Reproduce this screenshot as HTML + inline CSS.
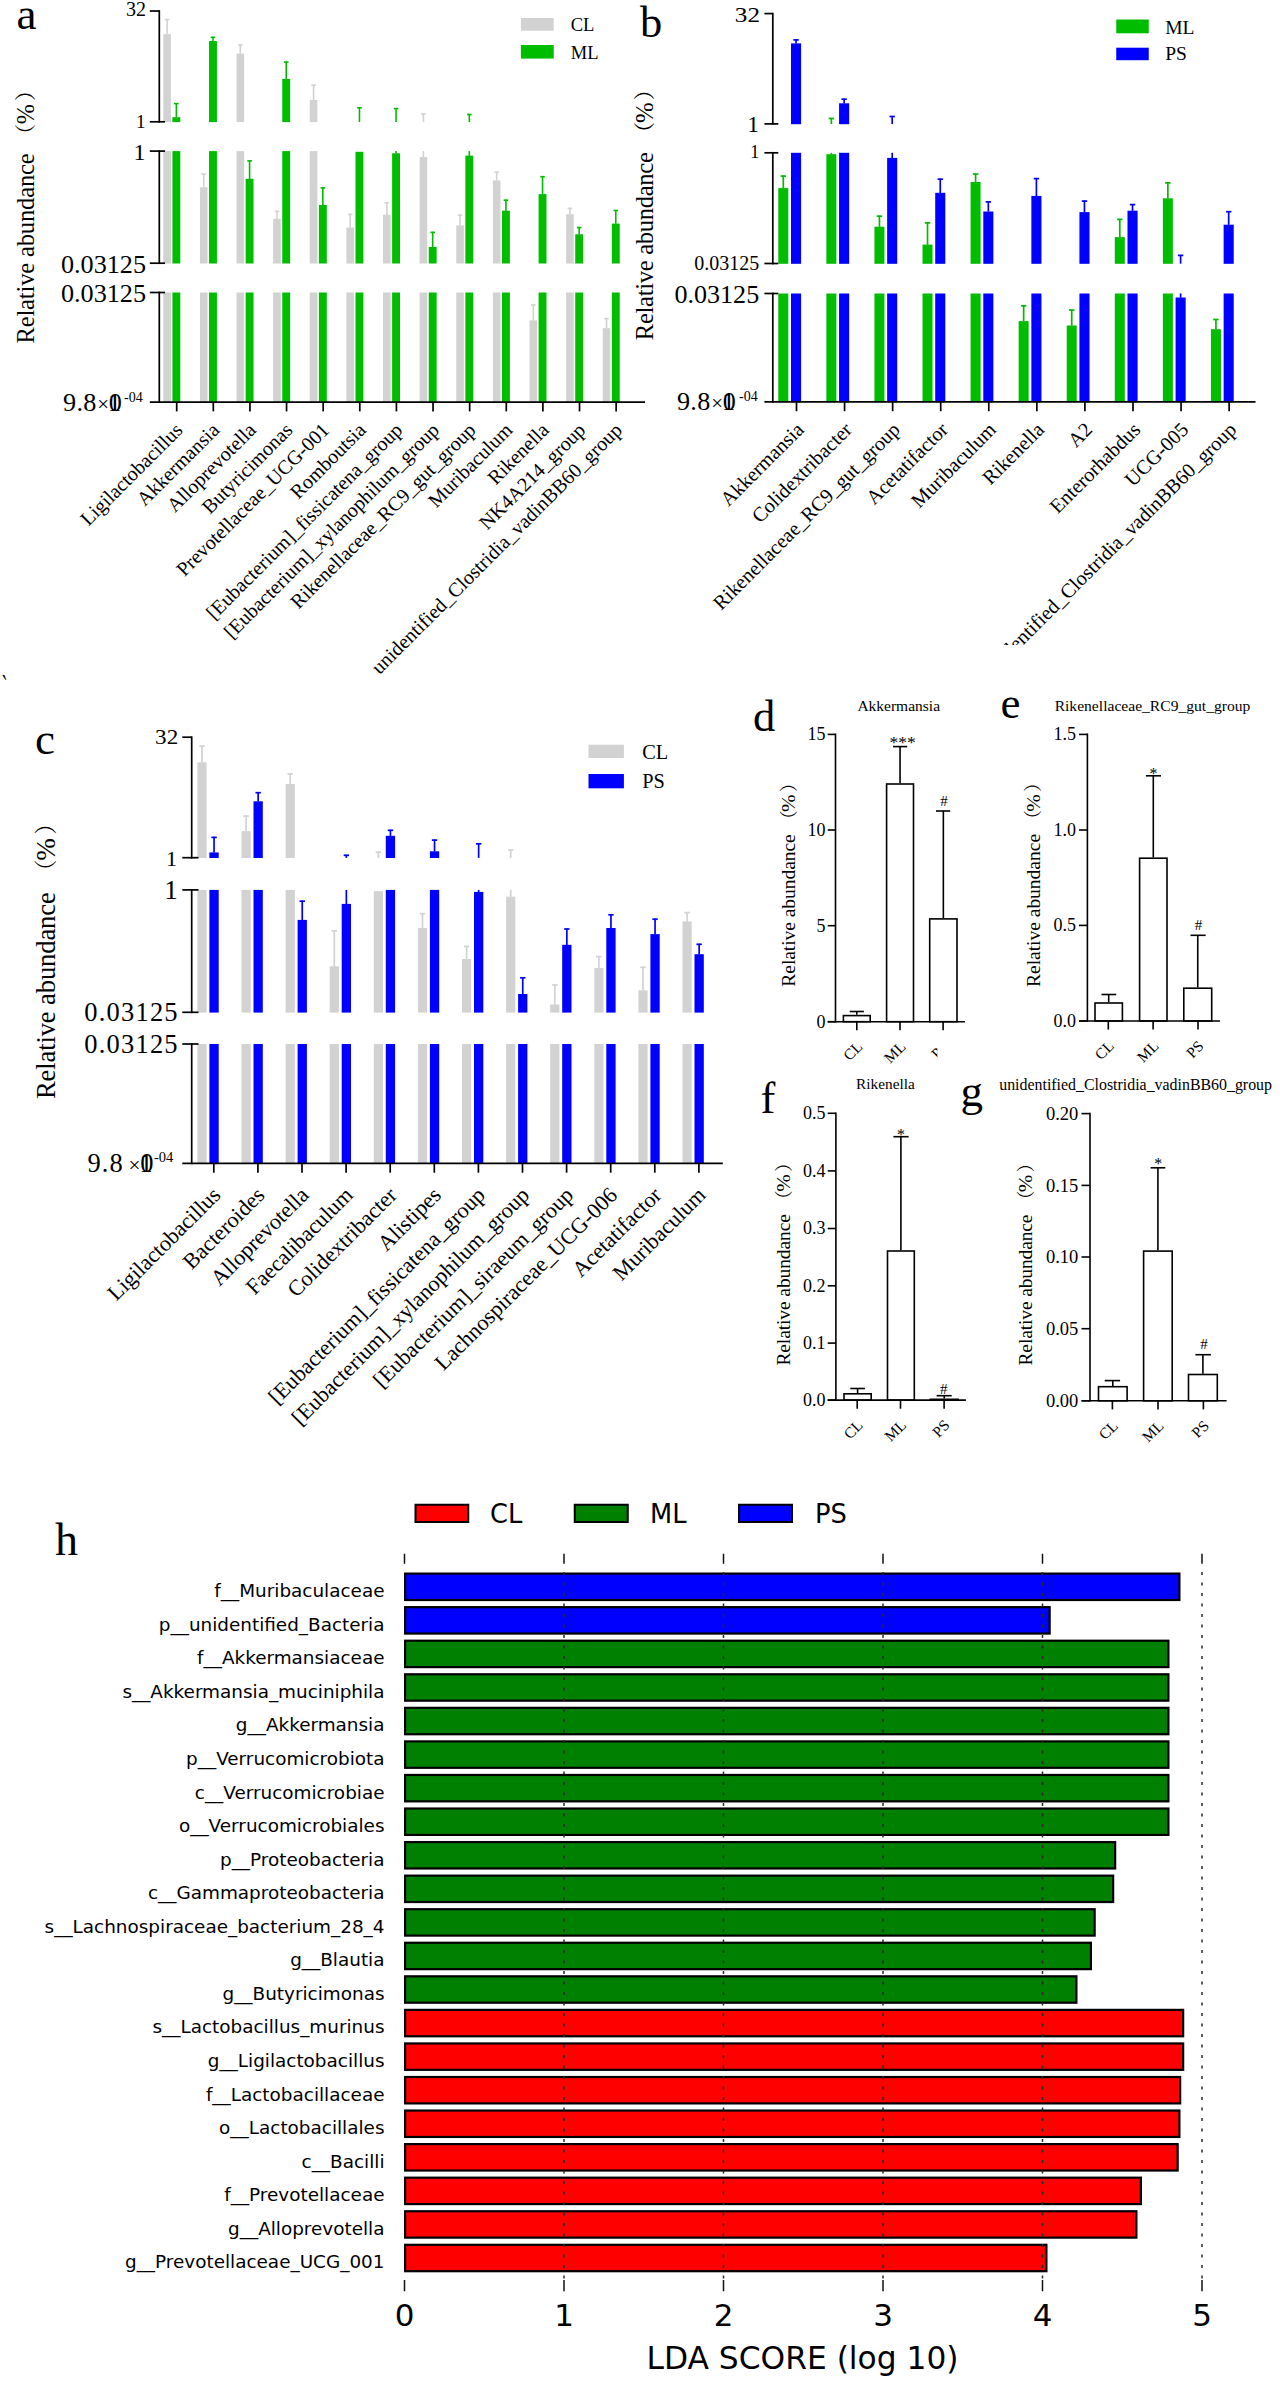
<!DOCTYPE html>
<html lang="en"><head><meta charset="utf-8"><title>Figure</title>
<style>html,body{margin:0;padding:0;background:#fff}svg{display:block}</style>
</head><body>
<svg width="1280" height="2387" viewBox="0 0 1280 2387">
<rect width="1280" height="2387" fill="#fff"/>
<rect x="163.3" y="34.2" width="7.6" height="87.9" fill="#D2D2D2"/>
<line x1="167.1" y1="19" x2="167.1" y2="34.4" stroke="#D2D2D2" stroke-width="1.6"/>
<line x1="164.8" y1="19.6" x2="169.4" y2="19.6" stroke="#D2D2D2" stroke-width="1.6"/>
<rect x="172.4" y="117.2" width="7.9" height="4.9" fill="#00BD00"/>
<line x1="176.35" y1="103" x2="176.35" y2="117.4" stroke="#00BD00" stroke-width="1.6"/>
<line x1="174.05" y1="103.6" x2="178.65" y2="103.6" stroke="#00BD00" stroke-width="1.6"/>
<rect x="209.02" y="41" width="7.9" height="81.1" fill="#00BD00"/>
<line x1="212.97" y1="36.7" x2="212.97" y2="41.2" stroke="#00BD00" stroke-width="1.6"/>
<line x1="210.67" y1="37.3" x2="215.27" y2="37.3" stroke="#00BD00" stroke-width="1.6"/>
<rect x="236.54" y="53.7" width="7.6" height="68.4" fill="#D2D2D2"/>
<line x1="240.34" y1="44.5" x2="240.34" y2="53.9" stroke="#D2D2D2" stroke-width="1.6"/>
<line x1="238.04" y1="45.1" x2="242.64" y2="45.1" stroke="#D2D2D2" stroke-width="1.6"/>
<rect x="282.26" y="79" width="7.9" height="43.1" fill="#00BD00"/>
<line x1="286.21" y1="61.5" x2="286.21" y2="79.2" stroke="#00BD00" stroke-width="1.6"/>
<line x1="283.91" y1="62.1" x2="288.51" y2="62.1" stroke="#00BD00" stroke-width="1.6"/>
<rect x="309.78" y="100" width="7.6" height="22.1" fill="#D2D2D2"/>
<line x1="313.58" y1="84.6" x2="313.58" y2="100.2" stroke="#D2D2D2" stroke-width="1.6"/>
<line x1="311.28" y1="85.2" x2="315.88" y2="85.2" stroke="#D2D2D2" stroke-width="1.6"/>
<line x1="359.45" y1="107.2" x2="359.45" y2="122" stroke="#00BD00" stroke-width="1.6"/>
<line x1="357.15" y1="107.8" x2="361.75" y2="107.8" stroke="#00BD00" stroke-width="1.6"/>
<line x1="396.07" y1="108" x2="396.07" y2="122" stroke="#00BD00" stroke-width="1.6"/>
<line x1="393.77" y1="108.6" x2="398.37" y2="108.6" stroke="#00BD00" stroke-width="1.6"/>
<line x1="423.44" y1="113.3" x2="423.44" y2="122" stroke="#D2D2D2" stroke-width="1.6"/>
<line x1="421.14" y1="113.9" x2="425.74" y2="113.9" stroke="#D2D2D2" stroke-width="1.6"/>
<line x1="469.31" y1="113.9" x2="469.31" y2="122" stroke="#00BD00" stroke-width="1.6"/>
<line x1="467.01" y1="114.5" x2="471.61" y2="114.5" stroke="#00BD00" stroke-width="1.6"/>
<rect x="163.3" y="151.1" width="7.6" height="112.4" fill="#D2D2D2"/>
<rect x="172.4" y="151.1" width="7.9" height="112.4" fill="#00BD00"/>
<rect x="199.92" y="187.3" width="7.6" height="76.2" fill="#D2D2D2"/>
<line x1="203.72" y1="173.5" x2="203.72" y2="187.5" stroke="#D2D2D2" stroke-width="1.6"/>
<line x1="201.42" y1="174.1" x2="206.02" y2="174.1" stroke="#D2D2D2" stroke-width="1.6"/>
<rect x="209.02" y="151.1" width="7.9" height="112.4" fill="#00BD00"/>
<rect x="236.54" y="151.1" width="7.6" height="112.4" fill="#D2D2D2"/>
<rect x="245.64" y="178.8" width="7.9" height="84.7" fill="#00BD00"/>
<line x1="249.59" y1="160.3" x2="249.59" y2="179" stroke="#00BD00" stroke-width="1.6"/>
<line x1="247.29" y1="160.9" x2="251.89" y2="160.9" stroke="#00BD00" stroke-width="1.6"/>
<rect x="273.16" y="218.8" width="7.6" height="44.7" fill="#D2D2D2"/>
<line x1="276.96" y1="210.7" x2="276.96" y2="219" stroke="#D2D2D2" stroke-width="1.6"/>
<line x1="274.66" y1="211.3" x2="279.26" y2="211.3" stroke="#D2D2D2" stroke-width="1.6"/>
<rect x="282.26" y="151.1" width="7.9" height="112.4" fill="#00BD00"/>
<rect x="309.78" y="151.1" width="7.6" height="112.4" fill="#D2D2D2"/>
<rect x="318.88" y="205" width="7.9" height="58.5" fill="#00BD00"/>
<line x1="322.83" y1="187.3" x2="322.83" y2="205.2" stroke="#00BD00" stroke-width="1.6"/>
<line x1="320.53" y1="187.9" x2="325.13" y2="187.9" stroke="#00BD00" stroke-width="1.6"/>
<rect x="346.4" y="227.6" width="7.6" height="35.9" fill="#D2D2D2"/>
<line x1="350.2" y1="213.8" x2="350.2" y2="227.8" stroke="#D2D2D2" stroke-width="1.6"/>
<line x1="347.9" y1="214.4" x2="352.5" y2="214.4" stroke="#D2D2D2" stroke-width="1.6"/>
<rect x="355.5" y="151.8" width="7.9" height="111.7" fill="#00BD00"/>
<rect x="383.02" y="214.8" width="7.6" height="48.7" fill="#D2D2D2"/>
<line x1="386.82" y1="202.2" x2="386.82" y2="215" stroke="#D2D2D2" stroke-width="1.6"/>
<line x1="384.52" y1="202.8" x2="389.12" y2="202.8" stroke="#D2D2D2" stroke-width="1.6"/>
<rect x="392.12" y="153.3" width="7.9" height="110.2" fill="#00BD00"/>
<line x1="396.07" y1="151.1" x2="396.07" y2="153.5" stroke="#00BD00" stroke-width="1.6"/>
<rect x="419.64" y="157" width="7.6" height="106.5" fill="#D2D2D2"/>
<line x1="423.44" y1="151.1" x2="423.44" y2="157.2" stroke="#D2D2D2" stroke-width="1.6"/>
<rect x="428.74" y="247" width="7.9" height="16.5" fill="#00BD00"/>
<line x1="432.69" y1="231.8" x2="432.69" y2="247.2" stroke="#00BD00" stroke-width="1.6"/>
<line x1="430.39" y1="232.4" x2="434.99" y2="232.4" stroke="#00BD00" stroke-width="1.6"/>
<rect x="456.26" y="225.4" width="7.6" height="38.1" fill="#D2D2D2"/>
<line x1="460.06" y1="214.6" x2="460.06" y2="225.6" stroke="#D2D2D2" stroke-width="1.6"/>
<line x1="457.76" y1="215.2" x2="462.36" y2="215.2" stroke="#D2D2D2" stroke-width="1.6"/>
<rect x="465.36" y="155.6" width="7.9" height="107.9" fill="#00BD00"/>
<line x1="469.31" y1="151.1" x2="469.31" y2="155.8" stroke="#00BD00" stroke-width="1.6"/>
<rect x="492.88" y="180.4" width="7.6" height="83.1" fill="#D2D2D2"/>
<line x1="496.68" y1="171.6" x2="496.68" y2="180.6" stroke="#D2D2D2" stroke-width="1.6"/>
<line x1="494.38" y1="172.2" x2="498.98" y2="172.2" stroke="#D2D2D2" stroke-width="1.6"/>
<rect x="501.98" y="210.7" width="7.9" height="52.8" fill="#00BD00"/>
<line x1="505.93" y1="199.6" x2="505.93" y2="210.9" stroke="#00BD00" stroke-width="1.6"/>
<line x1="503.63" y1="200.2" x2="508.23" y2="200.2" stroke="#00BD00" stroke-width="1.6"/>
<rect x="538.6" y="194.1" width="7.9" height="69.4" fill="#00BD00"/>
<line x1="542.55" y1="176.1" x2="542.55" y2="194.3" stroke="#00BD00" stroke-width="1.6"/>
<line x1="540.25" y1="176.7" x2="544.85" y2="176.7" stroke="#00BD00" stroke-width="1.6"/>
<rect x="566.12" y="214.2" width="7.6" height="49.3" fill="#D2D2D2"/>
<line x1="569.92" y1="207.8" x2="569.92" y2="214.4" stroke="#D2D2D2" stroke-width="1.6"/>
<line x1="567.62" y1="208.4" x2="572.22" y2="208.4" stroke="#D2D2D2" stroke-width="1.6"/>
<rect x="575.22" y="234.3" width="7.9" height="29.2" fill="#00BD00"/>
<line x1="579.17" y1="226.9" x2="579.17" y2="234.5" stroke="#00BD00" stroke-width="1.6"/>
<line x1="576.87" y1="227.5" x2="581.47" y2="227.5" stroke="#00BD00" stroke-width="1.6"/>
<rect x="611.84" y="223.6" width="7.9" height="39.9" fill="#00BD00"/>
<line x1="615.79" y1="209.9" x2="615.79" y2="223.8" stroke="#00BD00" stroke-width="1.6"/>
<line x1="613.49" y1="210.5" x2="618.09" y2="210.5" stroke="#00BD00" stroke-width="1.6"/>
<rect x="163.3" y="292.5" width="7.6" height="109.9" fill="#D2D2D2"/>
<rect x="172.4" y="292.5" width="7.9" height="109.9" fill="#00BD00"/>
<rect x="199.92" y="292.5" width="7.6" height="109.9" fill="#D2D2D2"/>
<rect x="209.02" y="292.5" width="7.9" height="109.9" fill="#00BD00"/>
<rect x="236.54" y="292.5" width="7.6" height="109.9" fill="#D2D2D2"/>
<rect x="245.64" y="292.5" width="7.9" height="109.9" fill="#00BD00"/>
<rect x="273.16" y="292.5" width="7.6" height="109.9" fill="#D2D2D2"/>
<rect x="282.26" y="292.5" width="7.9" height="109.9" fill="#00BD00"/>
<rect x="309.78" y="292.5" width="7.6" height="109.9" fill="#D2D2D2"/>
<rect x="318.88" y="292.5" width="7.9" height="109.9" fill="#00BD00"/>
<rect x="346.4" y="292.5" width="7.6" height="109.9" fill="#D2D2D2"/>
<rect x="355.5" y="292.5" width="7.9" height="109.9" fill="#00BD00"/>
<rect x="383.02" y="292.5" width="7.6" height="109.9" fill="#D2D2D2"/>
<rect x="392.12" y="292.5" width="7.9" height="109.9" fill="#00BD00"/>
<rect x="419.64" y="292.5" width="7.6" height="109.9" fill="#D2D2D2"/>
<rect x="428.74" y="292.5" width="7.9" height="109.9" fill="#00BD00"/>
<rect x="456.26" y="292.5" width="7.6" height="109.9" fill="#D2D2D2"/>
<rect x="465.36" y="292.5" width="7.9" height="109.9" fill="#00BD00"/>
<rect x="492.88" y="292.5" width="7.6" height="109.9" fill="#D2D2D2"/>
<rect x="501.98" y="292.5" width="7.9" height="109.9" fill="#00BD00"/>
<rect x="538.6" y="292.5" width="7.9" height="109.9" fill="#00BD00"/>
<rect x="566.12" y="292.5" width="7.6" height="109.9" fill="#D2D2D2"/>
<rect x="575.22" y="292.5" width="7.9" height="109.9" fill="#00BD00"/>
<rect x="611.84" y="292.5" width="7.9" height="109.9" fill="#00BD00"/>
<rect x="529.5" y="320.4" width="7.6" height="82" fill="#D2D2D2"/>
<line x1="533.3" y1="304.3" x2="533.3" y2="320.6" stroke="#D2D2D2" stroke-width="1.6"/>
<line x1="531" y1="304.9" x2="535.6" y2="304.9" stroke="#D2D2D2" stroke-width="1.6"/>
<rect x="602.74" y="328.2" width="7.6" height="74.2" fill="#D2D2D2"/>
<line x1="606.54" y1="318" x2="606.54" y2="328.4" stroke="#D2D2D2" stroke-width="1.6"/>
<line x1="604.24" y1="318.6" x2="608.84" y2="318.6" stroke="#D2D2D2" stroke-width="1.6"/>
<line x1="159.3" y1="10.15" x2="159.3" y2="122.65" stroke="#000" stroke-width="1.7"/>
<line x1="149.8" y1="11" x2="159.3" y2="11" stroke="#000" stroke-width="1.7"/>
<line x1="149.8" y1="121.8" x2="165" y2="121.8" stroke="#000" stroke-width="1.7"/>
<line x1="159.3" y1="150.25" x2="159.3" y2="264.05" stroke="#000" stroke-width="1.7"/>
<line x1="149.8" y1="151.1" x2="165" y2="151.1" stroke="#000" stroke-width="1.7"/>
<line x1="149.8" y1="263.2" x2="165" y2="263.2" stroke="#000" stroke-width="1.7"/>
<line x1="159.3" y1="291.65" x2="159.3" y2="402.95" stroke="#000" stroke-width="1.7"/>
<line x1="149.8" y1="292.5" x2="165" y2="292.5" stroke="#000" stroke-width="1.7"/>
<line x1="149.8" y1="402.1" x2="645" y2="402.1" stroke="#000" stroke-width="1.7"/>
<line x1="176.7" y1="402.1" x2="176.7" y2="411.4" stroke="#000" stroke-width="1.7"/>
<line x1="213.32" y1="402.1" x2="213.32" y2="411.4" stroke="#000" stroke-width="1.7"/>
<line x1="249.94" y1="402.1" x2="249.94" y2="411.4" stroke="#000" stroke-width="1.7"/>
<line x1="286.56" y1="402.1" x2="286.56" y2="411.4" stroke="#000" stroke-width="1.7"/>
<line x1="323.18" y1="402.1" x2="323.18" y2="411.4" stroke="#000" stroke-width="1.7"/>
<line x1="359.8" y1="402.1" x2="359.8" y2="411.4" stroke="#000" stroke-width="1.7"/>
<line x1="396.42" y1="402.1" x2="396.42" y2="411.4" stroke="#000" stroke-width="1.7"/>
<line x1="433.04" y1="402.1" x2="433.04" y2="411.4" stroke="#000" stroke-width="1.7"/>
<line x1="469.66" y1="402.1" x2="469.66" y2="411.4" stroke="#000" stroke-width="1.7"/>
<line x1="506.28" y1="402.1" x2="506.28" y2="411.4" stroke="#000" stroke-width="1.7"/>
<line x1="542.9" y1="402.1" x2="542.9" y2="411.4" stroke="#000" stroke-width="1.7"/>
<line x1="579.52" y1="402.1" x2="579.52" y2="411.4" stroke="#000" stroke-width="1.7"/>
<line x1="616.14" y1="402.1" x2="616.14" y2="411.4" stroke="#000" stroke-width="1.7"/>
<text transform="translate(146,16.2)" font-family='"Liberation Serif", serif' font-size="20" text-anchor="end" fill="#000">32</text>
<text transform="translate(145.6,127.8)" font-family='"Liberation Serif", serif' font-size="19" text-anchor="end" fill="#000">1</text>
<text transform="translate(145.6,159.5)" font-family='"Liberation Serif", serif' font-size="24" text-anchor="end" fill="#000">1</text>
<text transform="translate(146,272.7)" font-family='"Liberation Serif", serif' font-size="26.2" text-anchor="end" fill="#000">0.03125</text>
<text transform="translate(146,302)" font-family='"Liberation Serif", serif' font-size="26.2" text-anchor="end" fill="#000">0.03125</text>
<text transform="translate(63,410.5)" font-family='"Liberation Serif", serif' font-size="26.2" text-anchor="start" fill="#000" letter-spacing="0.3">9.8</text>
<text transform="translate(109,411)" font-family='"Liberation Serif", serif' font-size="20.96" text-anchor="end" fill="#000">×</text>
<text transform="translate(108,410.5)" font-family='"Liberation Serif", serif' font-size="26.2" text-anchor="start" fill="#000">1</text>
<text transform="translate(108.8,410.5)" font-family='"Liberation Serif", serif' font-size="26.2" text-anchor="start" fill="#000">0</text>
<text transform="translate(124,401.9)" font-family='"Liberation Serif", serif' font-size="14" text-anchor="start" fill="#000">-04</text>
<text transform="translate(34.3,343.5) rotate(-90)" font-family='"Liberation Serif", serif' font-size="24.6" textLength="190.2" lengthAdjust="spacing">Relative abundance</text>
<text transform="translate(33.3,145.3) rotate(-90)" font-family='"Liberation Serif", "Noto Serif CJK SC", "Noto Sans CJK SC", serif' font-size="21.4">（</text>
<text transform="translate(34.3,124.32) rotate(-90) scale(0.9788,1)" font-family='"Liberation Serif", serif' font-size="24.6">%</text>
<text transform="translate(33.3,101.04) rotate(-90)" font-family='"Liberation Serif", "Noto Serif CJK SC", "Noto Sans CJK SC", serif' font-size="21.4">）</text>
<rect x="520.9" y="18" width="32.8" height="12.7" fill="#D2D2D2"/>
<text transform="translate(570.7,30.7)" font-family='"Liberation Serif", serif' font-size="18.5" text-anchor="start" fill="#000">CL</text>
<rect x="520.9" y="45" width="32.8" height="13.6" fill="#00BD00"/>
<text transform="translate(570.7,58.6)" font-family='"Liberation Serif", serif' font-size="18.5" text-anchor="start" fill="#000">ML</text>
<text transform="translate(183.9,431.3) rotate(-45)" font-family='"Liberation Serif", serif' font-size="20.1" text-anchor="end" fill="#000">Ligilactobacillus</text>
<text transform="translate(220.52,431.3) rotate(-45)" font-family='"Liberation Serif", serif' font-size="20.1" text-anchor="end" fill="#000">Akkermansia</text>
<text transform="translate(257.14,431.3) rotate(-45)" font-family='"Liberation Serif", serif' font-size="20.1" text-anchor="end" fill="#000">Alloprevotella</text>
<text transform="translate(293.76,431.3) rotate(-45)" font-family='"Liberation Serif", serif' font-size="20.1" text-anchor="end" fill="#000">Butyricimonas</text>
<text transform="translate(330.38,431.3) rotate(-45)" font-family='"Liberation Serif", serif' font-size="20.1" text-anchor="end" fill="#000">Prevotellaceae_UCG-001</text>
<text transform="translate(367,431.3) rotate(-45)" font-family='"Liberation Serif", serif' font-size="20.1" text-anchor="end" fill="#000">Romboutsia</text>
<text transform="translate(403.62,431.3) rotate(-45)" font-family='"Liberation Serif", serif' font-size="20.1" text-anchor="end" fill="#000">[Eubacterium]_fissicatena_group</text>
<text transform="translate(440.24,431.3) rotate(-45)" font-family='"Liberation Serif", serif' font-size="20.1" text-anchor="end" fill="#000">[Eubacterium]_xylanophilum_group</text>
<text transform="translate(476.86,431.3) rotate(-45)" font-family='"Liberation Serif", serif' font-size="20.1" text-anchor="end" fill="#000">Rikenellaceae_RC9_gut_group</text>
<text transform="translate(513.48,431.3) rotate(-45)" font-family='"Liberation Serif", serif' font-size="20.1" text-anchor="end" fill="#000">Muribaculum</text>
<text transform="translate(550.1,431.3) rotate(-45)" font-family='"Liberation Serif", serif' font-size="20.1" text-anchor="end" fill="#000">Rikenella</text>
<text transform="translate(586.72,431.3) rotate(-45)" font-family='"Liberation Serif", serif' font-size="20.1" text-anchor="end" fill="#000">NK4A214_group</text>
<text transform="translate(623.34,431.3) rotate(-45)" font-family='"Liberation Serif", serif' font-size="20.1" text-anchor="end" fill="#000">unidentified_Clostridia_vadinBB60_group</text>
<text transform="translate(16.5,28.7)" font-family='"Liberation Serif", serif' font-size="45" text-anchor="start" fill="#000">a</text>
<rect x="791" y="43.4" width="10.1" height="80.8" fill="#0000FF"/>
<line x1="796.05" y1="39.3" x2="796.05" y2="43.6" stroke="#0000FF" stroke-width="1.7"/>
<line x1="793.35" y1="39.9" x2="798.75" y2="39.9" stroke="#0000FF" stroke-width="1.7"/>
<line x1="831.37" y1="117.9" x2="831.37" y2="124.1" stroke="#00BD00" stroke-width="1.7"/>
<line x1="828.67" y1="118.5" x2="834.07" y2="118.5" stroke="#00BD00" stroke-width="1.7"/>
<rect x="839.07" y="103.3" width="10.1" height="20.9" fill="#0000FF"/>
<line x1="844.12" y1="98.6" x2="844.12" y2="103.5" stroke="#0000FF" stroke-width="1.7"/>
<line x1="841.42" y1="99.2" x2="846.82" y2="99.2" stroke="#0000FF" stroke-width="1.7"/>
<line x1="892.19" y1="115.9" x2="892.19" y2="124.1" stroke="#0000FF" stroke-width="1.7"/>
<line x1="889.49" y1="116.5" x2="894.89" y2="116.5" stroke="#0000FF" stroke-width="1.7"/>
<rect x="778.3" y="188.1" width="10" height="75.7" fill="#00BD00"/>
<line x1="783.3" y1="175.5" x2="783.3" y2="188.3" stroke="#00BD00" stroke-width="1.7"/>
<line x1="780.6" y1="176.1" x2="786" y2="176.1" stroke="#00BD00" stroke-width="1.7"/>
<rect x="791" y="152.8" width="10.1" height="111" fill="#0000FF"/>
<rect x="826.37" y="154.2" width="10" height="109.6" fill="#00BD00"/>
<line x1="831.37" y1="152.8" x2="831.37" y2="154.4" stroke="#00BD00" stroke-width="1.7"/>
<rect x="839.07" y="152.8" width="10.1" height="111" fill="#0000FF"/>
<rect x="874.44" y="226.7" width="10" height="37.1" fill="#00BD00"/>
<line x1="879.44" y1="215.6" x2="879.44" y2="226.9" stroke="#00BD00" stroke-width="1.7"/>
<line x1="876.74" y1="216.2" x2="882.14" y2="216.2" stroke="#00BD00" stroke-width="1.7"/>
<rect x="887.14" y="157.9" width="10.1" height="105.9" fill="#0000FF"/>
<line x1="892.19" y1="152.8" x2="892.19" y2="158.1" stroke="#0000FF" stroke-width="1.7"/>
<rect x="922.51" y="244.6" width="10" height="19.2" fill="#00BD00"/>
<line x1="927.51" y1="222.3" x2="927.51" y2="244.8" stroke="#00BD00" stroke-width="1.7"/>
<line x1="924.81" y1="222.9" x2="930.21" y2="222.9" stroke="#00BD00" stroke-width="1.7"/>
<rect x="935.21" y="192.8" width="10.1" height="71" fill="#0000FF"/>
<line x1="940.26" y1="178.6" x2="940.26" y2="193" stroke="#0000FF" stroke-width="1.7"/>
<line x1="937.56" y1="179.2" x2="942.96" y2="179.2" stroke="#0000FF" stroke-width="1.7"/>
<rect x="970.58" y="182" width="10" height="81.8" fill="#00BD00"/>
<line x1="975.58" y1="173.5" x2="975.58" y2="182.2" stroke="#00BD00" stroke-width="1.7"/>
<line x1="972.88" y1="174.1" x2="978.28" y2="174.1" stroke="#00BD00" stroke-width="1.7"/>
<rect x="983.28" y="211.5" width="10.1" height="52.3" fill="#0000FF"/>
<line x1="988.33" y1="201.3" x2="988.33" y2="211.7" stroke="#0000FF" stroke-width="1.7"/>
<line x1="985.63" y1="201.9" x2="991.03" y2="201.9" stroke="#0000FF" stroke-width="1.7"/>
<rect x="1031.35" y="195.9" width="10.1" height="67.9" fill="#0000FF"/>
<line x1="1036.4" y1="178" x2="1036.4" y2="196.1" stroke="#0000FF" stroke-width="1.7"/>
<line x1="1033.7" y1="178.6" x2="1039.1" y2="178.6" stroke="#0000FF" stroke-width="1.7"/>
<rect x="1079.42" y="212.1" width="10.1" height="51.7" fill="#0000FF"/>
<line x1="1084.47" y1="200.5" x2="1084.47" y2="212.3" stroke="#0000FF" stroke-width="1.7"/>
<line x1="1081.77" y1="201.1" x2="1087.17" y2="201.1" stroke="#0000FF" stroke-width="1.7"/>
<rect x="1114.79" y="237.1" width="10" height="26.7" fill="#00BD00"/>
<line x1="1119.79" y1="218.8" x2="1119.79" y2="237.3" stroke="#00BD00" stroke-width="1.7"/>
<line x1="1117.09" y1="219.4" x2="1122.49" y2="219.4" stroke="#00BD00" stroke-width="1.7"/>
<rect x="1127.49" y="210.7" width="10.1" height="53.1" fill="#0000FF"/>
<line x1="1132.54" y1="204" x2="1132.54" y2="210.9" stroke="#0000FF" stroke-width="1.7"/>
<line x1="1129.84" y1="204.6" x2="1135.24" y2="204.6" stroke="#0000FF" stroke-width="1.7"/>
<rect x="1162.86" y="198.3" width="10" height="65.5" fill="#00BD00"/>
<line x1="1167.86" y1="182.3" x2="1167.86" y2="198.5" stroke="#00BD00" stroke-width="1.7"/>
<line x1="1165.16" y1="182.9" x2="1170.56" y2="182.9" stroke="#00BD00" stroke-width="1.7"/>
<line x1="1180.61" y1="254.8" x2="1180.61" y2="263.7" stroke="#0000FF" stroke-width="1.7"/>
<line x1="1177.91" y1="255.4" x2="1183.31" y2="255.4" stroke="#0000FF" stroke-width="1.7"/>
<rect x="1223.63" y="224.7" width="10.1" height="39.1" fill="#0000FF"/>
<line x1="1228.68" y1="211.1" x2="1228.68" y2="224.9" stroke="#0000FF" stroke-width="1.7"/>
<line x1="1225.98" y1="211.7" x2="1231.38" y2="211.7" stroke="#0000FF" stroke-width="1.7"/>
<rect x="778.3" y="293.5" width="10" height="108.7" fill="#00BD00"/>
<rect x="791" y="293.5" width="10.1" height="108.7" fill="#0000FF"/>
<rect x="826.37" y="293.5" width="10" height="108.7" fill="#00BD00"/>
<rect x="839.07" y="293.5" width="10.1" height="108.7" fill="#0000FF"/>
<rect x="874.44" y="293.5" width="10" height="108.7" fill="#00BD00"/>
<rect x="887.14" y="293.5" width="10.1" height="108.7" fill="#0000FF"/>
<rect x="922.51" y="293.5" width="10" height="108.7" fill="#00BD00"/>
<rect x="935.21" y="293.5" width="10.1" height="108.7" fill="#0000FF"/>
<rect x="970.58" y="293.5" width="10" height="108.7" fill="#00BD00"/>
<rect x="983.28" y="293.5" width="10.1" height="108.7" fill="#0000FF"/>
<rect x="1031.35" y="293.5" width="10.1" height="108.7" fill="#0000FF"/>
<rect x="1079.42" y="293.5" width="10.1" height="108.7" fill="#0000FF"/>
<rect x="1114.79" y="293.5" width="10" height="108.7" fill="#00BD00"/>
<rect x="1127.49" y="293.5" width="10.1" height="108.7" fill="#0000FF"/>
<rect x="1162.86" y="293.5" width="10" height="108.7" fill="#00BD00"/>
<rect x="1223.63" y="293.5" width="10.1" height="108.7" fill="#0000FF"/>
<rect x="1018.65" y="321.1" width="10" height="81.1" fill="#00BD00"/>
<line x1="1023.65" y1="305.2" x2="1023.65" y2="321.3" stroke="#00BD00" stroke-width="1.7"/>
<line x1="1020.95" y1="305.8" x2="1026.35" y2="305.8" stroke="#00BD00" stroke-width="1.7"/>
<rect x="1066.72" y="325.5" width="10" height="76.7" fill="#00BD00"/>
<line x1="1071.72" y1="309.5" x2="1071.72" y2="325.7" stroke="#00BD00" stroke-width="1.7"/>
<line x1="1069.02" y1="310.1" x2="1074.42" y2="310.1" stroke="#00BD00" stroke-width="1.7"/>
<rect x="1175.56" y="297.5" width="10.1" height="104.7" fill="#0000FF"/>
<line x1="1180.61" y1="293.5" x2="1180.61" y2="297.7" stroke="#0000FF" stroke-width="1.7"/>
<rect x="1210.93" y="329.2" width="10" height="73" fill="#00BD00"/>
<line x1="1215.93" y1="318.9" x2="1215.93" y2="329.4" stroke="#00BD00" stroke-width="1.7"/>
<line x1="1213.23" y1="319.5" x2="1218.63" y2="319.5" stroke="#00BD00" stroke-width="1.7"/>
<line x1="772.8" y1="12.75" x2="772.8" y2="124.75" stroke="#000" stroke-width="1.7"/>
<line x1="764.4" y1="13.6" x2="772.8" y2="13.6" stroke="#000" stroke-width="1.7"/>
<line x1="764.4" y1="123.9" x2="778.3" y2="123.9" stroke="#000" stroke-width="1.7"/>
<line x1="772.8" y1="151.95" x2="772.8" y2="264.35" stroke="#000" stroke-width="1.7"/>
<line x1="764.4" y1="152.8" x2="778.3" y2="152.8" stroke="#000" stroke-width="1.7"/>
<line x1="764.4" y1="263.5" x2="778.3" y2="263.5" stroke="#000" stroke-width="1.7"/>
<line x1="772.8" y1="292.65" x2="772.8" y2="402.75" stroke="#000" stroke-width="1.7"/>
<line x1="764.4" y1="293.5" x2="778.3" y2="293.5" stroke="#000" stroke-width="1.7"/>
<line x1="764.4" y1="401.9" x2="1255.5" y2="401.9" stroke="#000" stroke-width="1.7"/>
<line x1="796.5" y1="401.9" x2="796.5" y2="411.2" stroke="#000" stroke-width="1.7"/>
<line x1="844.57" y1="401.9" x2="844.57" y2="411.2" stroke="#000" stroke-width="1.7"/>
<line x1="892.64" y1="401.9" x2="892.64" y2="411.2" stroke="#000" stroke-width="1.7"/>
<line x1="940.71" y1="401.9" x2="940.71" y2="411.2" stroke="#000" stroke-width="1.7"/>
<line x1="988.78" y1="401.9" x2="988.78" y2="411.2" stroke="#000" stroke-width="1.7"/>
<line x1="1036.85" y1="401.9" x2="1036.85" y2="411.2" stroke="#000" stroke-width="1.7"/>
<line x1="1084.92" y1="401.9" x2="1084.92" y2="411.2" stroke="#000" stroke-width="1.7"/>
<line x1="1132.99" y1="401.9" x2="1132.99" y2="411.2" stroke="#000" stroke-width="1.7"/>
<line x1="1181.06" y1="401.9" x2="1181.06" y2="411.2" stroke="#000" stroke-width="1.7"/>
<line x1="1229.13" y1="401.9" x2="1229.13" y2="411.2" stroke="#000" stroke-width="1.7"/>
<text transform="translate(760,21.6) scale(1.2,1)" font-family='"Liberation Serif", serif' font-size="21" text-anchor="end" fill="#000">32</text>
<text transform="translate(759,131.8)" font-family='"Liberation Serif", serif' font-size="23.5" text-anchor="end" fill="#000">1</text>
<text transform="translate(759.2,157.8)" font-family='"Liberation Serif", serif' font-size="18" text-anchor="end" fill="#000">1</text>
<text transform="translate(759.2,269.6)" font-family='"Liberation Serif", serif' font-size="20" text-anchor="end" fill="#000">0.03125</text>
<text transform="translate(759.2,302.8)" font-family='"Liberation Serif", serif' font-size="26.1" text-anchor="end" fill="#000">0.03125</text>
<text transform="translate(677,409.9)" font-family='"Liberation Serif", serif' font-size="26.1" text-anchor="start" fill="#000" letter-spacing="0.3">9.8</text>
<text transform="translate(723,410.4)" font-family='"Liberation Serif", serif' font-size="20.88" text-anchor="end" fill="#000">×</text>
<text transform="translate(722,409.9)" font-family='"Liberation Serif", serif' font-size="26.1" text-anchor="start" fill="#000">1</text>
<text transform="translate(722.8,409.9)" font-family='"Liberation Serif", serif' font-size="26.1" text-anchor="start" fill="#000">0</text>
<text transform="translate(739,401.1)" font-family='"Liberation Serif", serif' font-size="14" text-anchor="start" fill="#000">-04</text>
<text transform="translate(653.4,340.2) rotate(-90)" font-family='"Liberation Serif", serif' font-size="24.6" textLength="188" lengthAdjust="spacing">Relative abundance</text>
<text transform="translate(652.4,143.22) rotate(-90)" font-family='"Liberation Serif", "Noto Serif CJK SC", "Noto Sans CJK SC", serif' font-size="21.3">（</text>
<text transform="translate(653.4,122.94) rotate(-90) scale(1.0056,1)" font-family='"Liberation Serif", serif' font-size="24.6">%</text>
<text transform="translate(652.4,100.32) rotate(-90)" font-family='"Liberation Serif", "Noto Serif CJK SC", "Noto Sans CJK SC", serif' font-size="21.3">）</text>
<rect x="1116.25" y="19.5" width="32.5" height="13.8" fill="#00BD00"/>
<text transform="translate(1165.2,33.6)" font-family='"Liberation Serif", serif' font-size="19.5" text-anchor="start" fill="#000">ML</text>
<rect x="1116.25" y="47.7" width="32.5" height="12.5" fill="#0000FF"/>
<text transform="translate(1165.2,60.2)" font-family='"Liberation Serif", serif' font-size="19.5" text-anchor="start" fill="#000">PS</text>
<clipPath id="cb"><rect x="640" y="400" width="640" height="245"/></clipPath>
<g clip-path="url(#cb)">
<text transform="translate(805,430.9) rotate(-45)" font-family='"Liberation Serif", serif' font-size="20.3" text-anchor="end" fill="#000">Akkermansia</text>
<text transform="translate(853.07,430.9) rotate(-45)" font-family='"Liberation Serif", serif' font-size="20.3" text-anchor="end" fill="#000">Colidextribacter</text>
<text transform="translate(901.14,430.9) rotate(-45)" font-family='"Liberation Serif", serif' font-size="20.3" text-anchor="end" fill="#000">Rikenellaceae_RC9_gut_group</text>
<text transform="translate(949.21,430.9) rotate(-45)" font-family='"Liberation Serif", serif' font-size="20.3" text-anchor="end" fill="#000">Acetatifactor</text>
<text transform="translate(997.28,430.9) rotate(-45)" font-family='"Liberation Serif", serif' font-size="20.3" text-anchor="end" fill="#000">Muribaculum</text>
<text transform="translate(1045.35,430.9) rotate(-45)" font-family='"Liberation Serif", serif' font-size="20.3" text-anchor="end" fill="#000">Rikenella</text>
<text transform="translate(1093.42,430.9) rotate(-45)" font-family='"Liberation Serif", serif' font-size="20.3" text-anchor="end" fill="#000">A2</text>
<text transform="translate(1141.49,430.9) rotate(-45)" font-family='"Liberation Serif", serif' font-size="20.3" text-anchor="end" fill="#000">Enterorhabdus</text>
<text transform="translate(1189.56,430.9) rotate(-45)" font-family='"Liberation Serif", serif' font-size="20.3" text-anchor="end" fill="#000">UCG-005</text>
<text transform="translate(1237.63,430.9) rotate(-45)" font-family='"Liberation Serif", serif' font-size="20.3" text-anchor="end" fill="#000">unidentified_Clostridia_vadinBB60_group</text>
</g>
<text transform="translate(640,36.5)" font-family='"Liberation Serif", serif' font-size="44.5" text-anchor="start" fill="#000">b</text>
<rect x="197.4" y="762.3" width="9.2" height="95.7" fill="#D2D2D2"/>
<line x1="202" y1="745.4" x2="202" y2="762.5" stroke="#D2D2D2" stroke-width="1.7"/>
<line x1="199.3" y1="746" x2="204.7" y2="746" stroke="#D2D2D2" stroke-width="1.7"/>
<rect x="209.4" y="852.4" width="9.3" height="5.6" fill="#0000FF"/>
<line x1="214.05" y1="836.8" x2="214.05" y2="852.6" stroke="#0000FF" stroke-width="1.7"/>
<line x1="211.35" y1="837.4" x2="216.75" y2="837.4" stroke="#0000FF" stroke-width="1.7"/>
<rect x="241.5" y="831.1" width="9.2" height="26.9" fill="#D2D2D2"/>
<line x1="246.1" y1="815.5" x2="246.1" y2="831.3" stroke="#D2D2D2" stroke-width="1.7"/>
<line x1="243.4" y1="816.1" x2="248.8" y2="816.1" stroke="#D2D2D2" stroke-width="1.7"/>
<rect x="253.5" y="801.3" width="9.3" height="56.7" fill="#0000FF"/>
<line x1="258.15" y1="792.1" x2="258.15" y2="801.5" stroke="#0000FF" stroke-width="1.7"/>
<line x1="255.45" y1="792.7" x2="260.85" y2="792.7" stroke="#0000FF" stroke-width="1.7"/>
<rect x="285.6" y="784" width="9.2" height="74" fill="#D2D2D2"/>
<line x1="290.2" y1="773.4" x2="290.2" y2="784.2" stroke="#D2D2D2" stroke-width="1.7"/>
<line x1="287.5" y1="774" x2="292.9" y2="774" stroke="#D2D2D2" stroke-width="1.7"/>
<line x1="346.35" y1="854.7" x2="346.35" y2="857.9" stroke="#0000FF" stroke-width="1.7"/>
<line x1="343.65" y1="855.3" x2="349.05" y2="855.3" stroke="#0000FF" stroke-width="1.7"/>
<line x1="378.4" y1="851.6" x2="378.4" y2="857.9" stroke="#D2D2D2" stroke-width="1.7"/>
<line x1="375.7" y1="852.2" x2="381.1" y2="852.2" stroke="#D2D2D2" stroke-width="1.7"/>
<rect x="385.8" y="835.8" width="9.3" height="22.2" fill="#0000FF"/>
<line x1="390.45" y1="829.7" x2="390.45" y2="836" stroke="#0000FF" stroke-width="1.7"/>
<line x1="387.75" y1="830.3" x2="393.15" y2="830.3" stroke="#0000FF" stroke-width="1.7"/>
<rect x="429.9" y="851.3" width="9.3" height="6.7" fill="#0000FF"/>
<line x1="434.55" y1="839.5" x2="434.55" y2="851.5" stroke="#0000FF" stroke-width="1.7"/>
<line x1="431.85" y1="840.1" x2="437.25" y2="840.1" stroke="#0000FF" stroke-width="1.7"/>
<line x1="478.65" y1="843.2" x2="478.65" y2="857.9" stroke="#0000FF" stroke-width="1.7"/>
<line x1="475.95" y1="843.8" x2="481.35" y2="843.8" stroke="#0000FF" stroke-width="1.7"/>
<line x1="510.7" y1="849.4" x2="510.7" y2="857.9" stroke="#D2D2D2" stroke-width="1.7"/>
<line x1="508" y1="850" x2="513.4" y2="850" stroke="#D2D2D2" stroke-width="1.7"/>
<rect x="197.4" y="889.9" width="9.2" height="122.7" fill="#D2D2D2"/>
<rect x="209.4" y="889.9" width="9.3" height="122.7" fill="#0000FF"/>
<rect x="241.5" y="889.9" width="9.2" height="122.7" fill="#D2D2D2"/>
<rect x="253.5" y="889.9" width="9.3" height="122.7" fill="#0000FF"/>
<rect x="285.6" y="889.9" width="9.2" height="122.7" fill="#D2D2D2"/>
<rect x="297.6" y="919.9" width="9.3" height="92.7" fill="#0000FF"/>
<line x1="302.25" y1="900.6" x2="302.25" y2="920.1" stroke="#0000FF" stroke-width="1.7"/>
<line x1="299.55" y1="901.2" x2="304.95" y2="901.2" stroke="#0000FF" stroke-width="1.7"/>
<rect x="329.7" y="966.3" width="9.2" height="46.3" fill="#D2D2D2"/>
<line x1="334.3" y1="930.2" x2="334.3" y2="966.5" stroke="#D2D2D2" stroke-width="1.7"/>
<line x1="331.6" y1="930.8" x2="337" y2="930.8" stroke="#D2D2D2" stroke-width="1.7"/>
<rect x="341.7" y="903.9" width="9.3" height="108.7" fill="#0000FF"/>
<line x1="346.35" y1="889.9" x2="346.35" y2="904.1" stroke="#0000FF" stroke-width="1.7"/>
<rect x="373.8" y="891.2" width="9.2" height="121.4" fill="#D2D2D2"/>
<rect x="385.8" y="889.9" width="9.3" height="122.7" fill="#0000FF"/>
<rect x="417.9" y="928" width="9.2" height="84.6" fill="#D2D2D2"/>
<line x1="422.5" y1="913.1" x2="422.5" y2="928.2" stroke="#D2D2D2" stroke-width="1.7"/>
<line x1="419.8" y1="913.7" x2="425.2" y2="913.7" stroke="#D2D2D2" stroke-width="1.7"/>
<rect x="429.9" y="889.9" width="9.3" height="122.7" fill="#0000FF"/>
<rect x="462" y="959" width="9.2" height="53.6" fill="#D2D2D2"/>
<line x1="466.6" y1="945.9" x2="466.6" y2="959.2" stroke="#D2D2D2" stroke-width="1.7"/>
<line x1="463.9" y1="946.5" x2="469.3" y2="946.5" stroke="#D2D2D2" stroke-width="1.7"/>
<rect x="474" y="891.9" width="9.3" height="120.7" fill="#0000FF"/>
<line x1="478.65" y1="889.9" x2="478.65" y2="892.1" stroke="#0000FF" stroke-width="1.7"/>
<rect x="506.1" y="896.7" width="9.2" height="115.9" fill="#D2D2D2"/>
<line x1="510.7" y1="889.9" x2="510.7" y2="896.9" stroke="#D2D2D2" stroke-width="1.7"/>
<rect x="518.1" y="994" width="9.3" height="18.6" fill="#0000FF"/>
<line x1="522.75" y1="977.2" x2="522.75" y2="994.2" stroke="#0000FF" stroke-width="1.7"/>
<line x1="520.05" y1="977.8" x2="525.45" y2="977.8" stroke="#0000FF" stroke-width="1.7"/>
<rect x="550.2" y="1004.5" width="9.2" height="8.1" fill="#D2D2D2"/>
<line x1="554.8" y1="984.4" x2="554.8" y2="1004.7" stroke="#D2D2D2" stroke-width="1.7"/>
<line x1="552.1" y1="985" x2="557.5" y2="985" stroke="#D2D2D2" stroke-width="1.7"/>
<rect x="562.2" y="944.8" width="9.3" height="67.8" fill="#0000FF"/>
<line x1="566.85" y1="928.4" x2="566.85" y2="945" stroke="#0000FF" stroke-width="1.7"/>
<line x1="564.15" y1="929" x2="569.55" y2="929" stroke="#0000FF" stroke-width="1.7"/>
<rect x="594.3" y="968" width="9.2" height="44.6" fill="#D2D2D2"/>
<line x1="598.9" y1="956" x2="598.9" y2="968.2" stroke="#D2D2D2" stroke-width="1.7"/>
<line x1="596.2" y1="956.6" x2="601.6" y2="956.6" stroke="#D2D2D2" stroke-width="1.7"/>
<rect x="606.3" y="928" width="9.3" height="84.6" fill="#0000FF"/>
<line x1="610.95" y1="914.2" x2="610.95" y2="928.2" stroke="#0000FF" stroke-width="1.7"/>
<line x1="608.25" y1="914.8" x2="613.65" y2="914.8" stroke="#0000FF" stroke-width="1.7"/>
<rect x="638.4" y="990.3" width="9.2" height="22.3" fill="#D2D2D2"/>
<line x1="643" y1="966.7" x2="643" y2="990.5" stroke="#D2D2D2" stroke-width="1.7"/>
<line x1="640.3" y1="967.3" x2="645.7" y2="967.3" stroke="#D2D2D2" stroke-width="1.7"/>
<rect x="650.4" y="934.1" width="9.3" height="78.5" fill="#0000FF"/>
<line x1="655.05" y1="918.6" x2="655.05" y2="934.3" stroke="#0000FF" stroke-width="1.7"/>
<line x1="652.35" y1="919.2" x2="657.75" y2="919.2" stroke="#0000FF" stroke-width="1.7"/>
<rect x="682.5" y="921.4" width="9.2" height="91.2" fill="#D2D2D2"/>
<line x1="687.1" y1="912" x2="687.1" y2="921.6" stroke="#D2D2D2" stroke-width="1.7"/>
<line x1="684.4" y1="912.6" x2="689.8" y2="912.6" stroke="#D2D2D2" stroke-width="1.7"/>
<rect x="694.5" y="954.2" width="9.3" height="58.4" fill="#0000FF"/>
<line x1="699.15" y1="943.7" x2="699.15" y2="954.4" stroke="#0000FF" stroke-width="1.7"/>
<line x1="696.45" y1="944.3" x2="701.85" y2="944.3" stroke="#0000FF" stroke-width="1.7"/>
<rect x="197.4" y="1044" width="9.2" height="119.7" fill="#D2D2D2"/>
<rect x="209.4" y="1044" width="9.3" height="119.7" fill="#0000FF"/>
<rect x="241.5" y="1044" width="9.2" height="119.7" fill="#D2D2D2"/>
<rect x="253.5" y="1044" width="9.3" height="119.7" fill="#0000FF"/>
<rect x="285.6" y="1044" width="9.2" height="119.7" fill="#D2D2D2"/>
<rect x="297.6" y="1044" width="9.3" height="119.7" fill="#0000FF"/>
<rect x="329.7" y="1044" width="9.2" height="119.7" fill="#D2D2D2"/>
<rect x="341.7" y="1044" width="9.3" height="119.7" fill="#0000FF"/>
<rect x="373.8" y="1044" width="9.2" height="119.7" fill="#D2D2D2"/>
<rect x="385.8" y="1044" width="9.3" height="119.7" fill="#0000FF"/>
<rect x="417.9" y="1044" width="9.2" height="119.7" fill="#D2D2D2"/>
<rect x="429.9" y="1044" width="9.3" height="119.7" fill="#0000FF"/>
<rect x="462" y="1044" width="9.2" height="119.7" fill="#D2D2D2"/>
<rect x="474" y="1044" width="9.3" height="119.7" fill="#0000FF"/>
<rect x="506.1" y="1044" width="9.2" height="119.7" fill="#D2D2D2"/>
<rect x="518.1" y="1044" width="9.3" height="119.7" fill="#0000FF"/>
<rect x="550.2" y="1044" width="9.2" height="119.7" fill="#D2D2D2"/>
<rect x="562.2" y="1044" width="9.3" height="119.7" fill="#0000FF"/>
<rect x="594.3" y="1044" width="9.2" height="119.7" fill="#D2D2D2"/>
<rect x="606.3" y="1044" width="9.3" height="119.7" fill="#0000FF"/>
<rect x="638.4" y="1044" width="9.2" height="119.7" fill="#D2D2D2"/>
<rect x="650.4" y="1044" width="9.3" height="119.7" fill="#0000FF"/>
<rect x="682.5" y="1044" width="9.2" height="119.7" fill="#D2D2D2"/>
<rect x="694.5" y="1044" width="9.3" height="119.7" fill="#0000FF"/>
<line x1="191.7" y1="736.35" x2="191.7" y2="858.55" stroke="#000" stroke-width="1.7"/>
<line x1="182.3" y1="737.2" x2="191.7" y2="737.2" stroke="#000" stroke-width="1.7"/>
<line x1="182.3" y1="857.7" x2="198.5" y2="857.7" stroke="#000" stroke-width="1.7"/>
<line x1="191.7" y1="889.05" x2="191.7" y2="1013.15" stroke="#000" stroke-width="1.7"/>
<line x1="182.3" y1="889.9" x2="198.5" y2="889.9" stroke="#000" stroke-width="1.7"/>
<line x1="182.3" y1="1012.3" x2="198.5" y2="1012.3" stroke="#000" stroke-width="1.7"/>
<line x1="191.7" y1="1043.15" x2="191.7" y2="1164.25" stroke="#000" stroke-width="1.7"/>
<line x1="182.3" y1="1044" x2="198.5" y2="1044" stroke="#000" stroke-width="1.7"/>
<line x1="182.3" y1="1163.4" x2="722.8" y2="1163.4" stroke="#000" stroke-width="1.7"/>
<line x1="213.8" y1="1163.4" x2="213.8" y2="1172.7" stroke="#000" stroke-width="1.7"/>
<line x1="257.9" y1="1163.4" x2="257.9" y2="1172.7" stroke="#000" stroke-width="1.7"/>
<line x1="302" y1="1163.4" x2="302" y2="1172.7" stroke="#000" stroke-width="1.7"/>
<line x1="346.1" y1="1163.4" x2="346.1" y2="1172.7" stroke="#000" stroke-width="1.7"/>
<line x1="390.2" y1="1163.4" x2="390.2" y2="1172.7" stroke="#000" stroke-width="1.7"/>
<line x1="434.3" y1="1163.4" x2="434.3" y2="1172.7" stroke="#000" stroke-width="1.7"/>
<line x1="478.4" y1="1163.4" x2="478.4" y2="1172.7" stroke="#000" stroke-width="1.7"/>
<line x1="522.5" y1="1163.4" x2="522.5" y2="1172.7" stroke="#000" stroke-width="1.7"/>
<line x1="566.6" y1="1163.4" x2="566.6" y2="1172.7" stroke="#000" stroke-width="1.7"/>
<line x1="610.7" y1="1163.4" x2="610.7" y2="1172.7" stroke="#000" stroke-width="1.7"/>
<line x1="654.8" y1="1163.4" x2="654.8" y2="1172.7" stroke="#000" stroke-width="1.7"/>
<line x1="698.9" y1="1163.4" x2="698.9" y2="1172.7" stroke="#000" stroke-width="1.7"/>
<text transform="translate(178.2,744) scale(1.1,1)" font-family='"Liberation Serif", serif' font-size="21" text-anchor="end" fill="#000">32</text>
<text transform="translate(177,865.7)" font-family='"Liberation Serif", serif' font-size="22" text-anchor="end" fill="#000">1</text>
<text transform="translate(177.8,898.8)" font-family='"Liberation Serif", serif' font-size="27" text-anchor="end" fill="#000">1</text>
<text transform="translate(177.6,1021)" font-family='"Liberation Serif", serif' font-size="26.5" text-anchor="end" fill="#000" letter-spacing="1.2" dx="1.2">0.03125</text>
<text transform="translate(177.6,1052.5)" font-family='"Liberation Serif", serif' font-size="26.5" text-anchor="end" fill="#000" letter-spacing="1.2" dx="1.2">0.03125</text>
<text transform="translate(87.5,1171.6)" font-family='"Liberation Serif", serif' font-size="26.5" text-anchor="start" fill="#000" letter-spacing="1">9.8</text>
<text transform="translate(140.5,1172.1)" font-family='"Liberation Serif", serif' font-size="21.2" text-anchor="end" fill="#000">×</text>
<text transform="translate(139.5,1171.6)" font-family='"Liberation Serif", serif' font-size="26.5" text-anchor="start" fill="#000">1</text>
<text transform="translate(140.3,1171.6)" font-family='"Liberation Serif", serif' font-size="26.5" text-anchor="start" fill="#000">0</text>
<text transform="translate(154,1162.2)" font-family='"Liberation Serif", serif' font-size="14.5" text-anchor="start" fill="#000">-04</text>
<text transform="translate(54.8,1099.1) rotate(-90)" font-family='"Liberation Serif", serif' font-size="26.6" textLength="206.9" lengthAdjust="spacing">Relative abundance</text>
<text transform="translate(53.8,882.6) rotate(-90)" font-family='"Liberation Serif", "Noto Serif CJK SC", "Noto Sans CJK SC", serif' font-size="23">（</text>
<text transform="translate(54.8,860.81) rotate(-90) scale(1.019,1)" font-family='"Liberation Serif", serif' font-size="26.6">%</text>
<text transform="translate(53.8,834.72) rotate(-90)" font-family='"Liberation Serif", "Noto Serif CJK SC", "Noto Sans CJK SC", serif' font-size="23">）</text>
<rect x="588.5" y="744.7" width="35.4" height="13.3" fill="#D2D2D2"/>
<text transform="translate(642.2,758.5)" font-family='"Liberation Serif", serif' font-size="20.3" text-anchor="start" fill="#000">CL</text>
<rect x="588.5" y="774" width="35.4" height="14.3" fill="#0000FF"/>
<text transform="translate(642.2,788.3)" font-family='"Liberation Serif", serif' font-size="20.3" text-anchor="start" fill="#000">PS</text>
<text transform="translate(221.8,1196.4) rotate(-45)" font-family='"Liberation Serif", serif' font-size="22.2" text-anchor="end" fill="#000">Ligilactobacillus</text>
<text transform="translate(265.9,1196.4) rotate(-45)" font-family='"Liberation Serif", serif' font-size="22.2" text-anchor="end" fill="#000">Bacteroides</text>
<text transform="translate(310,1196.4) rotate(-45)" font-family='"Liberation Serif", serif' font-size="22.2" text-anchor="end" fill="#000">Alloprevotella</text>
<text transform="translate(354.1,1196.4) rotate(-45)" font-family='"Liberation Serif", serif' font-size="22.2" text-anchor="end" fill="#000">Faecalibaculum</text>
<text transform="translate(398.2,1196.4) rotate(-45)" font-family='"Liberation Serif", serif' font-size="22.2" text-anchor="end" fill="#000">Colidextribacter</text>
<text transform="translate(442.3,1196.4) rotate(-45)" font-family='"Liberation Serif", serif' font-size="22.2" text-anchor="end" fill="#000">Alistipes</text>
<text transform="translate(486.4,1196.4) rotate(-45)" font-family='"Liberation Serif", serif' font-size="22.2" text-anchor="end" fill="#000">[Eubacterium]_fissicatena_group</text>
<text transform="translate(530.5,1196.4) rotate(-45)" font-family='"Liberation Serif", serif' font-size="22.2" text-anchor="end" fill="#000">[Eubacterium]_xylanophilum_group</text>
<text transform="translate(574.6,1196.4) rotate(-45)" font-family='"Liberation Serif", serif' font-size="22.2" text-anchor="end" fill="#000">[Eubacterium]_siraeum_group</text>
<text transform="translate(618.7,1196.4) rotate(-45)" font-family='"Liberation Serif", serif' font-size="22.2" text-anchor="end" fill="#000">Lachnospiraceae_UCG-006</text>
<text transform="translate(662.8,1196.4) rotate(-45)" font-family='"Liberation Serif", serif' font-size="22.2" text-anchor="end" fill="#000">Acetatifactor</text>
<text transform="translate(706.9,1196.4) rotate(-45)" font-family='"Liberation Serif", serif' font-size="22.2" text-anchor="end" fill="#000">Muribaculum</text>
<text transform="translate(35,754.3)" font-family='"Liberation Serif", serif' font-size="45" text-anchor="start" fill="#000">c</text>
<line x1="856.8" y1="1011.5" x2="856.8" y2="1014.8" stroke="#000" stroke-width="1.6"/>
<line x1="849.7" y1="1011.5" x2="863.9" y2="1011.5" stroke="#000" stroke-width="1.6"/>
<rect x="843.4" y="1015.6" width="26.8" height="6.1" fill="#fff" stroke="#000" stroke-width="1.6"/>
<line x1="900.05" y1="746.6" x2="900.05" y2="783.2" stroke="#000" stroke-width="1.6"/>
<line x1="893" y1="746.6" x2="907.2" y2="746.6" stroke="#000" stroke-width="1.6"/>
<rect x="886.6" y="784" width="26.9" height="237.7" fill="#fff" stroke="#000" stroke-width="1.6"/>
<line x1="943.35" y1="811" x2="943.35" y2="918.1" stroke="#000" stroke-width="1.6"/>
<line x1="936" y1="811" x2="950.2" y2="811" stroke="#000" stroke-width="1.6"/>
<rect x="929.7" y="918.9" width="27.3" height="102.8" fill="#fff" stroke="#000" stroke-width="1.6"/>
<line x1="835.5" y1="733.6" x2="835.5" y2="1022.5" stroke="#000" stroke-width="1.6"/>
<line x1="827.7" y1="1021.7" x2="965" y2="1021.7" stroke="#000" stroke-width="1.6"/>
<line x1="827.7" y1="734.4" x2="835.5" y2="734.4" stroke="#000" stroke-width="1.6"/>
<text transform="translate(825.5,740.34)" font-family='"Liberation Serif", serif' font-size="18" text-anchor="end" fill="#000">15</text>
<line x1="827.7" y1="830" x2="835.5" y2="830" stroke="#000" stroke-width="1.6"/>
<text transform="translate(825.5,835.94)" font-family='"Liberation Serif", serif' font-size="18" text-anchor="end" fill="#000">10</text>
<line x1="827.7" y1="925.7" x2="835.5" y2="925.7" stroke="#000" stroke-width="1.6"/>
<text transform="translate(825.5,931.64)" font-family='"Liberation Serif", serif' font-size="18" text-anchor="end" fill="#000">5</text>
<line x1="827.7" y1="1021.7" x2="835.5" y2="1021.7" stroke="#000" stroke-width="1.6"/>
<text transform="translate(825.5,1027.64)" font-family='"Liberation Serif", serif' font-size="18" text-anchor="end" fill="#000">0</text>
<line x1="856.8" y1="1021.7" x2="856.8" y2="1030.3" stroke="#000" stroke-width="1.6"/>
<line x1="900" y1="1021.7" x2="900" y2="1030.3" stroke="#000" stroke-width="1.6"/>
<line x1="943.1" y1="1021.7" x2="943.1" y2="1030.3" stroke="#000" stroke-width="1.6"/>
<clipPath id="cd"><polygon points="900,1030 937.4,1030 937.4,1100 900,1100"/></clipPath>
<text transform="translate(863.3,1047.7) rotate(-45)" font-family='"Liberation Serif", serif' font-size="15.3" text-anchor="end" fill="#000">CL</text>
<text transform="translate(906.5,1047.7) rotate(-45)" font-family='"Liberation Serif", serif' font-size="15.3" text-anchor="end" fill="#000">ML</text>
<g clip-path="url(#cd)">
<text transform="translate(949.6,1047.7) rotate(-45)" font-family='"Liberation Serif", serif' font-size="15.3" text-anchor="end" fill="#000">PS</text>
</g>
<text transform="translate(898.7,710.5)" font-family='"Liberation Serif", serif' font-size="15.5" text-anchor="middle" fill="#000">Akkermansia</text>
<text transform="translate(902.5,747.5)" font-family='"Liberation Serif", serif' font-size="17.5" text-anchor="middle" fill="#000">***</text>
<text transform="translate(944.1,806)" font-family='"Liberation Serif", serif' font-size="15" text-anchor="middle" fill="#000">#</text>
<text transform="translate(795.3,986.7) rotate(-90)" font-family='"Liberation Serif", serif' font-size="19.6" textLength="152.5" lengthAdjust="spacing">Relative abundance</text>
<text transform="translate(794.8,828.82) rotate(-90)" font-family='"Liberation Serif", "Noto Serif CJK SC", "Noto Sans CJK SC", serif' font-size="18.5">（</text>
<text transform="translate(795.3,811.93) rotate(-90) scale(1.0741,1)" font-family='"Liberation Serif", serif' font-size="19.6">%</text>
<text transform="translate(794.8,792.19) rotate(-90)" font-family='"Liberation Serif", "Noto Serif CJK SC", "Noto Sans CJK SC", serif' font-size="18.5">）</text>
<text transform="translate(753,731.4)" font-family='"Liberation Serif", serif' font-size="44.5" text-anchor="start" fill="#000">d</text>
<line x1="1108.7" y1="994.5" x2="1108.7" y2="1002.2" stroke="#000" stroke-width="1.6"/>
<line x1="1101.5" y1="994.5" x2="1116.2" y2="994.5" stroke="#000" stroke-width="1.6"/>
<rect x="1095" y="1003" width="27.4" height="18" fill="#fff" stroke="#000" stroke-width="1.6"/>
<line x1="1153.3" y1="775.8" x2="1153.3" y2="857.4" stroke="#000" stroke-width="1.6"/>
<line x1="1145.9" y1="775.8" x2="1161" y2="775.8" stroke="#000" stroke-width="1.6"/>
<rect x="1139.6" y="858.2" width="27.4" height="162.8" fill="#fff" stroke="#000" stroke-width="1.6"/>
<line x1="1197.75" y1="935.3" x2="1197.75" y2="987.4" stroke="#000" stroke-width="1.6"/>
<line x1="1190.5" y1="935.3" x2="1205.7" y2="935.3" stroke="#000" stroke-width="1.6"/>
<rect x="1183.8" y="988.2" width="27.9" height="32.8" fill="#fff" stroke="#000" stroke-width="1.6"/>
<line x1="1087.4" y1="733.6" x2="1087.4" y2="1021.8" stroke="#000" stroke-width="1.6"/>
<line x1="1079" y1="1021" x2="1220" y2="1021" stroke="#000" stroke-width="1.6"/>
<line x1="1079" y1="734.4" x2="1087.4" y2="734.4" stroke="#000" stroke-width="1.6"/>
<text transform="translate(1076,740.34)" font-family='"Liberation Serif", serif' font-size="18" text-anchor="end" fill="#000">1.5</text>
<line x1="1079" y1="830" x2="1087.4" y2="830" stroke="#000" stroke-width="1.6"/>
<text transform="translate(1076,835.94)" font-family='"Liberation Serif", serif' font-size="18" text-anchor="end" fill="#000">1.0</text>
<line x1="1079" y1="925.4" x2="1087.4" y2="925.4" stroke="#000" stroke-width="1.6"/>
<text transform="translate(1076,931.34)" font-family='"Liberation Serif", serif' font-size="18" text-anchor="end" fill="#000">0.5</text>
<line x1="1079" y1="1021" x2="1087.4" y2="1021" stroke="#000" stroke-width="1.6"/>
<text transform="translate(1076,1026.94)" font-family='"Liberation Serif", serif' font-size="18" text-anchor="end" fill="#000">0.0</text>
<line x1="1108.3" y1="1021" x2="1108.3" y2="1029.6" stroke="#000" stroke-width="1.6"/>
<line x1="1153.1" y1="1021" x2="1153.1" y2="1029.6" stroke="#000" stroke-width="1.6"/>
<line x1="1198" y1="1021" x2="1198" y2="1029.6" stroke="#000" stroke-width="1.6"/>
<text transform="translate(1114.8,1047) rotate(-45)" font-family='"Liberation Serif", serif' font-size="15.3" text-anchor="end" fill="#000">CL</text>
<text transform="translate(1159.6,1047) rotate(-45)" font-family='"Liberation Serif", serif' font-size="15.3" text-anchor="end" fill="#000">ML</text>
<text transform="translate(1204.5,1047) rotate(-45)" font-family='"Liberation Serif", serif' font-size="15.3" text-anchor="end" fill="#000">PS</text>
<text transform="translate(1152.5,710.6)" font-family='"Liberation Serif", serif' font-size="15.6" text-anchor="middle" fill="#000">Rikenellaceae_RC9_gut_group</text>
<text transform="translate(1153.6,778.5)" font-family='"Liberation Serif", serif' font-size="16" text-anchor="middle" fill="#000">*</text>
<text transform="translate(1198.4,930.3)" font-family='"Liberation Serif", serif' font-size="15" text-anchor="middle" fill="#000">#</text>
<text transform="translate(1039.5,987) rotate(-90)" font-family='"Liberation Serif", serif' font-size="19.6" textLength="153.1" lengthAdjust="spacing">Relative abundance</text>
<text transform="translate(1039,828.52) rotate(-90)" font-family='"Liberation Serif", "Noto Serif CJK SC", "Noto Sans CJK SC", serif' font-size="18.5">（</text>
<text transform="translate(1039.5,811.63) rotate(-90) scale(1.0741,1)" font-family='"Liberation Serif", serif' font-size="19.6">%</text>
<text transform="translate(1039,791.89) rotate(-90)" font-family='"Liberation Serif", "Noto Serif CJK SC", "Noto Sans CJK SC", serif' font-size="18.5">）</text>
<text transform="translate(1000.5,718.3)" font-family='"Liberation Serif", serif' font-size="45" text-anchor="start" fill="#000">e</text>
<g transform="translate(0,0.9)">
<line x1="857.6" y1="1387.6" x2="857.6" y2="1392.1" stroke="#000" stroke-width="1.6"/>
<line x1="850.3" y1="1387.6" x2="864.9" y2="1387.6" stroke="#000" stroke-width="1.6"/>
<rect x="844" y="1392.9" width="27.2" height="6.3" fill="#fff" stroke="#000" stroke-width="1.6"/>
<line x1="900.9" y1="1135.8" x2="900.9" y2="1249.3" stroke="#000" stroke-width="1.6"/>
<line x1="893.4" y1="1135.8" x2="908.6" y2="1135.8" stroke="#000" stroke-width="1.6"/>
<rect x="887.5" y="1250.1" width="26.8" height="149.1" fill="#fff" stroke="#000" stroke-width="1.6"/>
<line x1="944.25" y1="1394.8" x2="944.25" y2="1397.6" stroke="#000" stroke-width="1.6"/>
<line x1="936.6" y1="1394.8" x2="951.7" y2="1394.8" stroke="#000" stroke-width="1.6"/>
<rect x="930.3" y="1398.4" width="27.9" height="0.8" fill="#fff" stroke="#000" stroke-width="1.6"/>
<line x1="835.9" y1="1111.6" x2="835.9" y2="1400" stroke="#000" stroke-width="1.6"/>
<line x1="827.7" y1="1399.2" x2="965.9" y2="1399.2" stroke="#000" stroke-width="1.6"/>
<line x1="827.7" y1="1112.4" x2="835.9" y2="1112.4" stroke="#000" stroke-width="1.6"/>
<text transform="translate(825.5,1118.34)" font-family='"Liberation Serif", serif' font-size="18" text-anchor="end" fill="#000">0.5</text>
<line x1="827.7" y1="1170" x2="835.9" y2="1170" stroke="#000" stroke-width="1.6"/>
<text transform="translate(825.5,1175.94)" font-family='"Liberation Serif", serif' font-size="18" text-anchor="end" fill="#000">0.4</text>
<line x1="827.7" y1="1227.6" x2="835.9" y2="1227.6" stroke="#000" stroke-width="1.6"/>
<text transform="translate(825.5,1233.54)" font-family='"Liberation Serif", serif' font-size="18" text-anchor="end" fill="#000">0.3</text>
<line x1="827.7" y1="1284.9" x2="835.9" y2="1284.9" stroke="#000" stroke-width="1.6"/>
<text transform="translate(825.5,1290.84)" font-family='"Liberation Serif", serif' font-size="18" text-anchor="end" fill="#000">0.2</text>
<line x1="827.7" y1="1342.2" x2="835.9" y2="1342.2" stroke="#000" stroke-width="1.6"/>
<text transform="translate(825.5,1348.14)" font-family='"Liberation Serif", serif' font-size="18" text-anchor="end" fill="#000">0.1</text>
<line x1="827.7" y1="1399.2" x2="835.9" y2="1399.2" stroke="#000" stroke-width="1.6"/>
<text transform="translate(825.5,1405.14)" font-family='"Liberation Serif", serif' font-size="18" text-anchor="end" fill="#000">0.0</text>
<line x1="857.2" y1="1399.2" x2="857.2" y2="1407.8" stroke="#000" stroke-width="1.6"/>
<line x1="900.5" y1="1399.2" x2="900.5" y2="1407.8" stroke="#000" stroke-width="1.6"/>
<line x1="944.1" y1="1399.2" x2="944.1" y2="1407.8" stroke="#000" stroke-width="1.6"/>
<text transform="translate(863.7,1425.2) rotate(-45)" font-family='"Liberation Serif", serif' font-size="15.3" text-anchor="end" fill="#000">CL</text>
<text transform="translate(907,1425.2) rotate(-45)" font-family='"Liberation Serif", serif' font-size="15.3" text-anchor="end" fill="#000">ML</text>
<text transform="translate(950.6,1425.2) rotate(-45)" font-family='"Liberation Serif", serif' font-size="15.3" text-anchor="end" fill="#000">PS</text>
<text transform="translate(885.4,1088.4)" font-family='"Liberation Serif", serif' font-size="15.3" text-anchor="middle" fill="#000">Rikenella</text>
<text transform="translate(901,1139)" font-family='"Liberation Serif", serif' font-size="16" text-anchor="middle" fill="#000">*</text>
<text transform="translate(943.7,1393)" font-family='"Liberation Serif", serif' font-size="15" text-anchor="middle" fill="#000">#</text>
<text transform="translate(790.3,1364.7) rotate(-90)" font-family='"Liberation Serif", serif' font-size="19.5" textLength="151.5" lengthAdjust="spacing">Relative abundance</text>
<text transform="translate(789.8,1207.82) rotate(-90)" font-family='"Liberation Serif", "Noto Serif CJK SC", "Noto Sans CJK SC", serif' font-size="18.5">（</text>
<text transform="translate(790.3,1190.93) rotate(-90) scale(1.0796,1)" font-family='"Liberation Serif", serif' font-size="19.5">%</text>
<text transform="translate(789.8,1171.19) rotate(-90)" font-family='"Liberation Serif", "Noto Serif CJK SC", "Noto Sans CJK SC", serif' font-size="18.5">）</text>
<text transform="translate(760.5,1112.4)" font-family='"Liberation Serif", serif' font-size="44.5" text-anchor="start" fill="#000">f</text>
</g>
<line x1="1112.8" y1="1380.6" x2="1112.8" y2="1385.9" stroke="#000" stroke-width="1.6"/>
<line x1="1104.7" y1="1380.6" x2="1120.1" y2="1380.6" stroke="#000" stroke-width="1.6"/>
<rect x="1098.5" y="1386.7" width="28.6" height="14.1" fill="#fff" stroke="#000" stroke-width="1.6"/>
<line x1="1157.9" y1="1167.8" x2="1157.9" y2="1250.3" stroke="#000" stroke-width="1.6"/>
<line x1="1150.6" y1="1167.8" x2="1165.3" y2="1167.8" stroke="#000" stroke-width="1.6"/>
<rect x="1143.6" y="1251.1" width="28.6" height="149.7" fill="#fff" stroke="#000" stroke-width="1.6"/>
<line x1="1202.9" y1="1354.7" x2="1202.9" y2="1373.7" stroke="#000" stroke-width="1.6"/>
<line x1="1195.4" y1="1354.7" x2="1210.9" y2="1354.7" stroke="#000" stroke-width="1.6"/>
<rect x="1188.5" y="1374.5" width="28.8" height="26.3" fill="#fff" stroke="#000" stroke-width="1.6"/>
<line x1="1090" y1="1112.8" x2="1090" y2="1401.6" stroke="#000" stroke-width="1.6"/>
<line x1="1081.5" y1="1400.8" x2="1226.6" y2="1400.8" stroke="#000" stroke-width="1.6"/>
<line x1="1081.5" y1="1113.6" x2="1090" y2="1113.6" stroke="#000" stroke-width="1.6"/>
<text transform="translate(1078.3,1119.7)" font-family='"Liberation Serif", serif' font-size="18.5" text-anchor="end" fill="#000">0.20</text>
<line x1="1081.5" y1="1185.4" x2="1090" y2="1185.4" stroke="#000" stroke-width="1.6"/>
<text transform="translate(1078.3,1191.51)" font-family='"Liberation Serif", serif' font-size="18.5" text-anchor="end" fill="#000">0.15</text>
<line x1="1081.5" y1="1257" x2="1090" y2="1257" stroke="#000" stroke-width="1.6"/>
<text transform="translate(1078.3,1263.11)" font-family='"Liberation Serif", serif' font-size="18.5" text-anchor="end" fill="#000">0.10</text>
<line x1="1081.5" y1="1328.7" x2="1090" y2="1328.7" stroke="#000" stroke-width="1.6"/>
<text transform="translate(1078.3,1334.81)" font-family='"Liberation Serif", serif' font-size="18.5" text-anchor="end" fill="#000">0.05</text>
<line x1="1081.5" y1="1400.8" x2="1090" y2="1400.8" stroke="#000" stroke-width="1.6"/>
<text transform="translate(1078.3,1406.9)" font-family='"Liberation Serif", serif' font-size="18.5" text-anchor="end" fill="#000">0.00</text>
<line x1="1112.4" y1="1400.8" x2="1112.4" y2="1409.4" stroke="#000" stroke-width="1.6"/>
<line x1="1158" y1="1400.8" x2="1158" y2="1409.4" stroke="#000" stroke-width="1.6"/>
<line x1="1203.4" y1="1400.8" x2="1203.4" y2="1409.4" stroke="#000" stroke-width="1.6"/>
<text transform="translate(1118.9,1426.8) rotate(-45)" font-family='"Liberation Serif", serif' font-size="15.3" text-anchor="end" fill="#000">CL</text>
<text transform="translate(1164.5,1426.8) rotate(-45)" font-family='"Liberation Serif", serif' font-size="15.3" text-anchor="end" fill="#000">ML</text>
<text transform="translate(1209.9,1426.8) rotate(-45)" font-family='"Liberation Serif", serif' font-size="15.3" text-anchor="end" fill="#000">PS</text>
<text transform="translate(1135.6,1089.6)" font-family='"Liberation Serif", serif' font-size="15.9" text-anchor="middle" fill="#000">unidentified_Clostridia_vadinBB60_group</text>
<text transform="translate(1158.3,1169)" font-family='"Liberation Serif", serif' font-size="16" text-anchor="middle" fill="#000">*</text>
<text transform="translate(1203.9,1348.7)" font-family='"Liberation Serif", serif' font-size="15" text-anchor="middle" fill="#000">#</text>
<text transform="translate(1032.1,1365.5) rotate(-90)" font-family='"Liberation Serif", serif' font-size="19.5" textLength="151" lengthAdjust="spacing">Relative abundance</text>
<text transform="translate(1031.6,1209.12) rotate(-90)" font-family='"Liberation Serif", "Noto Serif CJK SC", "Noto Sans CJK SC", serif' font-size="18.5">（</text>
<text transform="translate(1032.1,1192.23) rotate(-90) scale(1.0796,1)" font-family='"Liberation Serif", serif' font-size="19.5">%</text>
<text transform="translate(1031.6,1172.49) rotate(-90)" font-family='"Liberation Serif", "Noto Serif CJK SC", "Noto Sans CJK SC", serif' font-size="18.5">）</text>
<text transform="translate(960.5,1106.3)" font-family='"Liberation Serif", serif' font-size="45" text-anchor="start" fill="#000">g</text>
<rect x="405.1" y="1573.6" width="774.3" height="26.4" fill="#0000FF" stroke="#000" stroke-width="2.2"/>
<text transform="translate(384.5,1597.2)" font-family='"DejaVu Sans", "Liberation Sans", sans-serif' font-size="18.4" text-anchor="end" fill="#000">f__Muribaculaceae</text>
<rect x="405.1" y="1607.16" width="644.55" height="26.4" fill="#0000FF" stroke="#000" stroke-width="2.2"/>
<text transform="translate(384.5,1630.76)" font-family='"DejaVu Sans", "Liberation Sans", sans-serif' font-size="18.4" text-anchor="end" fill="#000">p__unidentified_Bacteria</text>
<rect x="405.1" y="1640.72" width="763.3" height="26.4" fill="#008000" stroke="#000" stroke-width="2.2"/>
<text transform="translate(384.5,1664.32)" font-family='"DejaVu Sans", "Liberation Sans", sans-serif' font-size="18.4" text-anchor="end" fill="#000">f__Akkermansiaceae</text>
<rect x="405.1" y="1674.28" width="763.3" height="26.4" fill="#008000" stroke="#000" stroke-width="2.2"/>
<text transform="translate(384.5,1697.88)" font-family='"DejaVu Sans", "Liberation Sans", sans-serif' font-size="18.4" text-anchor="end" fill="#000">s__Akkermansia_muciniphila</text>
<rect x="405.1" y="1707.84" width="763.3" height="26.4" fill="#008000" stroke="#000" stroke-width="2.2"/>
<text transform="translate(384.5,1731.44)" font-family='"DejaVu Sans", "Liberation Sans", sans-serif' font-size="18.4" text-anchor="end" fill="#000">g__Akkermansia</text>
<rect x="405.1" y="1741.4" width="763.3" height="26.4" fill="#008000" stroke="#000" stroke-width="2.2"/>
<text transform="translate(384.5,1765)" font-family='"DejaVu Sans", "Liberation Sans", sans-serif' font-size="18.4" text-anchor="end" fill="#000">p__Verrucomicrobiota</text>
<rect x="405.1" y="1774.96" width="763.3" height="26.4" fill="#008000" stroke="#000" stroke-width="2.2"/>
<text transform="translate(384.5,1798.56)" font-family='"DejaVu Sans", "Liberation Sans", sans-serif' font-size="18.4" text-anchor="end" fill="#000">c__Verrucomicrobiae</text>
<rect x="405.1" y="1808.52" width="763.3" height="26.4" fill="#008000" stroke="#000" stroke-width="2.2"/>
<text transform="translate(384.5,1832.12)" font-family='"DejaVu Sans", "Liberation Sans", sans-serif' font-size="18.4" text-anchor="end" fill="#000">o__Verrucomicrobiales</text>
<rect x="405.1" y="1842.08" width="710.05" height="26.4" fill="#008000" stroke="#000" stroke-width="2.2"/>
<text transform="translate(384.5,1865.68)" font-family='"DejaVu Sans", "Liberation Sans", sans-serif' font-size="18.4" text-anchor="end" fill="#000">p__Proteobacteria</text>
<rect x="405.1" y="1875.64" width="708.05" height="26.4" fill="#008000" stroke="#000" stroke-width="2.2"/>
<text transform="translate(384.5,1899.24)" font-family='"DejaVu Sans", "Liberation Sans", sans-serif' font-size="18.4" text-anchor="end" fill="#000">c__Gammaproteobacteria</text>
<rect x="405.1" y="1909.2" width="689.55" height="26.4" fill="#008000" stroke="#000" stroke-width="2.2"/>
<text transform="translate(384.5,1932.8)" font-family='"DejaVu Sans", "Liberation Sans", sans-serif' font-size="18.4" text-anchor="end" fill="#000">s__Lachnospiraceae_bacterium_28_4</text>
<rect x="405.1" y="1942.76" width="685.8" height="26.4" fill="#008000" stroke="#000" stroke-width="2.2"/>
<text transform="translate(384.5,1966.36)" font-family='"DejaVu Sans", "Liberation Sans", sans-serif' font-size="18.4" text-anchor="end" fill="#000">g__Blautia</text>
<rect x="405.1" y="1976.32" width="671.3" height="26.4" fill="#008000" stroke="#000" stroke-width="2.2"/>
<text transform="translate(384.5,1999.92)" font-family='"DejaVu Sans", "Liberation Sans", sans-serif' font-size="18.4" text-anchor="end" fill="#000">g__Butyricimonas</text>
<rect x="405.1" y="2009.88" width="778.05" height="26.4" fill="#FF0000" stroke="#000" stroke-width="2.2"/>
<text transform="translate(384.5,2033.48)" font-family='"DejaVu Sans", "Liberation Sans", sans-serif' font-size="18.4" text-anchor="end" fill="#000">s__Lactobacillus_murinus</text>
<rect x="405.1" y="2043.44" width="778.05" height="26.4" fill="#FF0000" stroke="#000" stroke-width="2.2"/>
<text transform="translate(384.5,2067.04)" font-family='"DejaVu Sans", "Liberation Sans", sans-serif' font-size="18.4" text-anchor="end" fill="#000">g__Ligilactobacillus</text>
<rect x="405.1" y="2077" width="775.05" height="26.4" fill="#FF0000" stroke="#000" stroke-width="2.2"/>
<text transform="translate(384.5,2100.6)" font-family='"DejaVu Sans", "Liberation Sans", sans-serif' font-size="18.4" text-anchor="end" fill="#000">f__Lactobacillaceae</text>
<rect x="405.1" y="2110.56" width="774.3" height="26.4" fill="#FF0000" stroke="#000" stroke-width="2.2"/>
<text transform="translate(384.5,2134.16)" font-family='"DejaVu Sans", "Liberation Sans", sans-serif' font-size="18.4" text-anchor="end" fill="#000">o__Lactobacillales</text>
<rect x="405.1" y="2144.12" width="772.55" height="26.4" fill="#FF0000" stroke="#000" stroke-width="2.2"/>
<text transform="translate(384.5,2167.72)" font-family='"DejaVu Sans", "Liberation Sans", sans-serif' font-size="18.4" text-anchor="end" fill="#000">c__Bacilli</text>
<rect x="405.1" y="2177.68" width="735.8" height="26.4" fill="#FF0000" stroke="#000" stroke-width="2.2"/>
<text transform="translate(384.5,2201.28)" font-family='"DejaVu Sans", "Liberation Sans", sans-serif' font-size="18.4" text-anchor="end" fill="#000">f__Prevotellaceae</text>
<rect x="405.1" y="2211.24" width="731.3" height="26.4" fill="#FF0000" stroke="#000" stroke-width="2.2"/>
<text transform="translate(384.5,2234.84)" font-family='"DejaVu Sans", "Liberation Sans", sans-serif' font-size="18.4" text-anchor="end" fill="#000">g__Alloprevotella</text>
<rect x="405.1" y="2244.8" width="641.3" height="26.4" fill="#FF0000" stroke="#000" stroke-width="2.2"/>
<text transform="translate(384.5,2268.4)" font-family='"DejaVu Sans", "Liberation Sans", sans-serif' font-size="18.4" text-anchor="end" fill="#000">g__Prevotellaceae_UCG_001</text>
<line x1="564" y1="1572" x2="564" y2="2280" stroke="#2a2a2a" stroke-width="1.5" stroke-dasharray="3 7.5"/>
<line x1="723.5" y1="1572" x2="723.5" y2="2280" stroke="#2a2a2a" stroke-width="1.5" stroke-dasharray="3 7.5"/>
<line x1="883" y1="1572" x2="883" y2="2280" stroke="#2a2a2a" stroke-width="1.5" stroke-dasharray="3 7.5"/>
<line x1="1042.5" y1="1572" x2="1042.5" y2="2280" stroke="#2a2a2a" stroke-width="1.5" stroke-dasharray="3 7.5"/>
<line x1="1202" y1="1572" x2="1202" y2="2280" stroke="#2a2a2a" stroke-width="1.5" stroke-dasharray="3 7.5"/>
<line x1="404.5" y1="1553.75" x2="404.5" y2="1563.75" stroke="#111" stroke-width="1.5"/>
<line x1="404.5" y1="2280" x2="404.5" y2="2291.25" stroke="#111" stroke-width="1.5"/>
<text transform="translate(404.5,2326)" font-family='"DejaVu Sans", "Liberation Sans", sans-serif' font-size="31" text-anchor="middle" fill="#000">0</text>
<line x1="564" y1="1553.75" x2="564" y2="1563.75" stroke="#111" stroke-width="1.5"/>
<line x1="564" y1="2280" x2="564" y2="2291.25" stroke="#111" stroke-width="1.5"/>
<text transform="translate(564,2326)" font-family='"DejaVu Sans", "Liberation Sans", sans-serif' font-size="31" text-anchor="middle" fill="#000">1</text>
<line x1="723.5" y1="1553.75" x2="723.5" y2="1563.75" stroke="#111" stroke-width="1.5"/>
<line x1="723.5" y1="2280" x2="723.5" y2="2291.25" stroke="#111" stroke-width="1.5"/>
<text transform="translate(723.5,2326)" font-family='"DejaVu Sans", "Liberation Sans", sans-serif' font-size="31" text-anchor="middle" fill="#000">2</text>
<line x1="883" y1="1553.75" x2="883" y2="1563.75" stroke="#111" stroke-width="1.5"/>
<line x1="883" y1="2280" x2="883" y2="2291.25" stroke="#111" stroke-width="1.5"/>
<text transform="translate(883,2326)" font-family='"DejaVu Sans", "Liberation Sans", sans-serif' font-size="31" text-anchor="middle" fill="#000">3</text>
<line x1="1042.5" y1="1553.75" x2="1042.5" y2="1563.75" stroke="#111" stroke-width="1.5"/>
<line x1="1042.5" y1="2280" x2="1042.5" y2="2291.25" stroke="#111" stroke-width="1.5"/>
<text transform="translate(1042.5,2326)" font-family='"DejaVu Sans", "Liberation Sans", sans-serif' font-size="31" text-anchor="middle" fill="#000">4</text>
<line x1="1202" y1="1553.75" x2="1202" y2="1563.75" stroke="#111" stroke-width="1.5"/>
<line x1="1202" y1="2280" x2="1202" y2="2291.25" stroke="#111" stroke-width="1.5"/>
<text transform="translate(1202,2326)" font-family='"DejaVu Sans", "Liberation Sans", sans-serif' font-size="31" text-anchor="middle" fill="#000">5</text>
<text transform="translate(802.5,2369)" font-family='"DejaVu Sans", "Liberation Sans", sans-serif' font-size="31.3" text-anchor="middle" fill="#000">LDA SCORE (log 10)</text>
<rect x="415.5" y="1504.75" width="52.75" height="17.25" fill="#FF0000" stroke="#000" stroke-width="2"/>
<text transform="translate(490,1523)" font-family='"DejaVu Sans", "Liberation Sans", sans-serif' font-size="25.7" text-anchor="start" fill="#000">CL</text>
<rect x="574.75" y="1504.75" width="53" height="17.25" fill="#008000" stroke="#000" stroke-width="2"/>
<text transform="translate(650,1523)" font-family='"DejaVu Sans", "Liberation Sans", sans-serif' font-size="25.7" text-anchor="start" fill="#000">ML</text>
<rect x="739" y="1504.75" width="53" height="17.25" fill="#0000FF" stroke="#000" stroke-width="2"/>
<text transform="translate(815,1523)" font-family='"DejaVu Sans", "Liberation Sans", sans-serif' font-size="25.7" text-anchor="start" fill="#000">PS</text>
<text transform="translate(55,1554.6)" font-family='"Liberation Serif", serif' font-size="46" text-anchor="start" fill="#000">h</text>
<text transform="translate(1.6,698.5) scale(0.8,1.5)" font-family='"Liberation Serif", serif' font-size="22">`</text>
</svg>
</body></html>
